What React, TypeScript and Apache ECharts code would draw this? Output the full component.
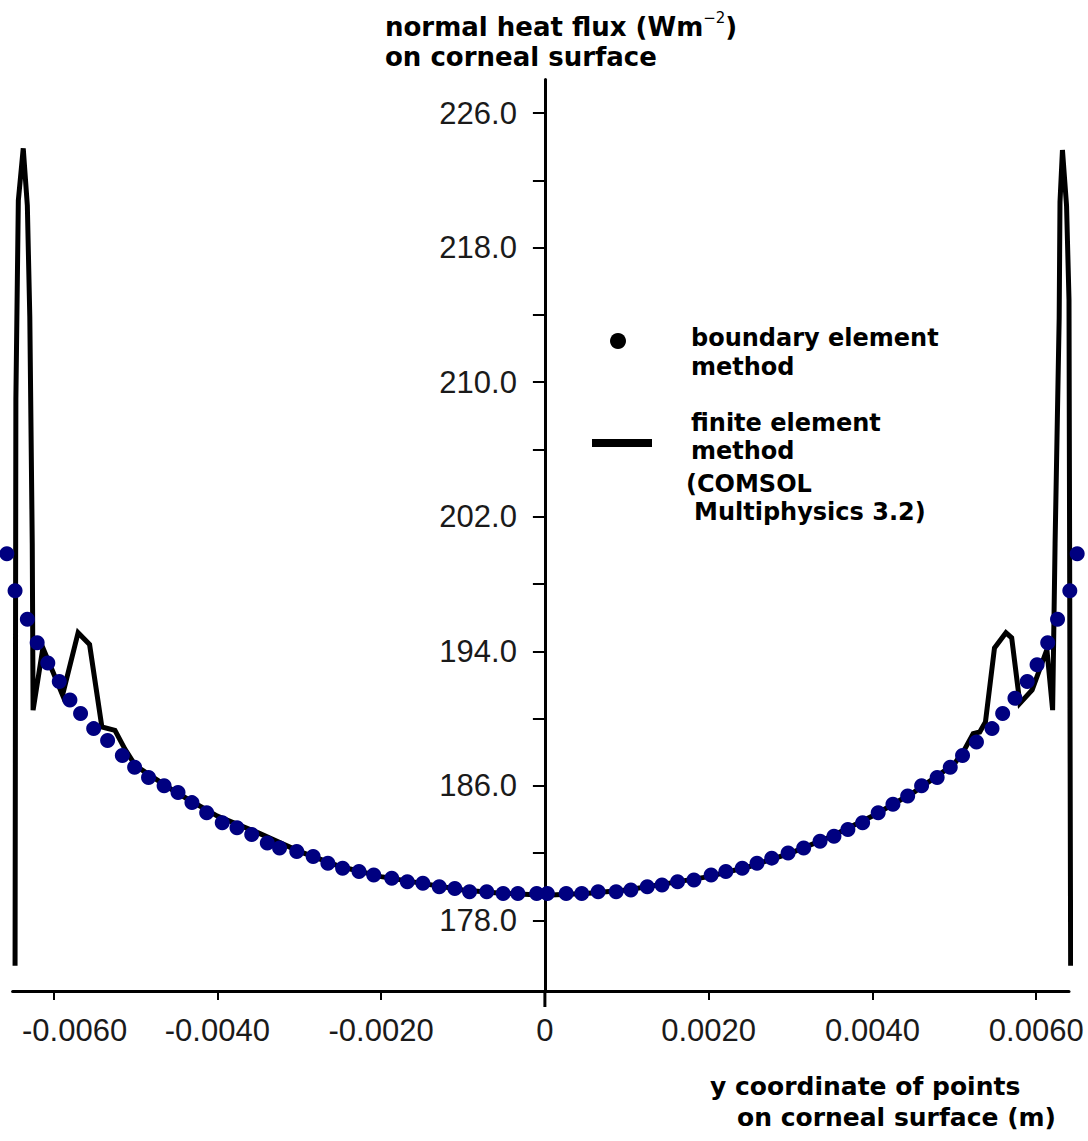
import React, { useEffect, useRef } from 'react';
import * as echarts from 'echarts';

// Boundary element method (dots)
const bemX = [
  -0.00657, -0.00647, -0.00632, -0.0062, -0.00607, -0.00593, -0.0058, -0.00567, -0.00551, -0.00534,
  -0.00516, -0.00501, -0.00484, -0.00465, -0.00448, -0.00431, -0.00413, -0.00394, -0.00376, -0.00358,
  -0.00339, -0.00324, -0.00303, -0.00283, -0.00265, -0.00247, -0.00227, -0.00209, -0.00187, -0.00168,
  -0.00149, -0.00129, -0.0011, -0.00092, -0.00071, -0.00051, -0.00033, -0.0001,
  0.00003, 0.00026, 0.00045, 0.00065, 0.00087, 0.00105, 0.00125, 0.00143, 0.00162, 0.00182,
  0.00203, 0.00221, 0.00241, 0.00259, 0.00277, 0.00297, 0.00316, 0.00336, 0.00353, 0.0037,
  0.00388, 0.00407, 0.00425, 0.00443, 0.0046, 0.00479, 0.00495, 0.0051, 0.00527, 0.00546,
  0.00559, 0.00574, 0.00589, 0.00601, 0.00614, 0.00626, 0.00641, 0.0065,
];
const bemY = [
  199.8, 197.6, 195.9, 194.5, 193.3, 192.2, 191.1, 190.3, 189.4, 188.7,
  187.8, 187.1, 186.5, 186.0, 185.6, 185.0, 184.4, 183.8, 183.5, 183.1,
  182.6, 182.3, 182.1, 181.8, 181.4, 181.1, 180.9, 180.7, 180.5, 180.3,
  180.2, 180.0, 179.9, 179.7, 179.7, 179.6, 179.6, 179.6,
  179.6, 179.6, 179.6, 179.7, 179.7, 179.8, 180.0, 180.1, 180.3, 180.4,
  180.7, 180.9, 181.1, 181.4, 181.7, 182.0, 182.3, 182.7, 183.0, 183.4,
  183.8, 184.4, 184.9, 185.4, 186.0, 186.5, 187.1, 187.8, 188.6, 189.4,
  190.3, 191.2, 192.2, 193.2, 194.5, 195.9, 197.6, 199.8,
];

// Finite element method (COMSOL) line
const femX = [
  -0.00647, -0.00646, -0.00643, -0.00637, -0.00632, -0.00629, -0.00626, -0.00625, -0.00613, -0.00589,
  -0.0057, -0.00556, -0.00541, -0.00525, -0.00513, -0.005, -0.0045, -0.004, -0.0035, -0.003,
  -0.0025, -0.002, -0.0015, -0.001, -0.0005, 0, 0.0005, 0.001, 0.0015, 0.002,
  0.0025, 0.003, 0.0035, 0.004, 0.0045, 0.005, 0.00513, 0.00523, 0.00531, 0.00538,
  0.00549, 0.00563, 0.0057, 0.0058, 0.00595, 0.00613, 0.0062, 0.00623, 0.00628, 0.00629,
  0.00632, 0.00637, 0.0064, 0.00642,
];
const femY = [
  175.3, 209.0, 220.8, 223.9, 220.5, 213.9, 200.4, 190.5, 194.2, 191.4,
  195.1, 194.4, 189.5, 189.3, 188.2, 187.2, 185.6, 184.2, 183.2, 182.1,
  181.2, 180.6, 180.2, 179.8, 179.6, 179.5, 179.6, 179.8, 180.2, 180.6,
  181.2, 182.0, 183.0, 184.2, 185.6, 187.3, 188.2, 189.1, 189.2, 189.8,
  194.2, 195.1, 194.8, 190.9, 191.7, 194.1, 190.5, 200.4, 213.8, 220.7,
  223.8, 220.5, 214.9, 175.3,
];

const yLabelValues = [178, 186, 194, 202, 210, 218, 226];
const yTickValues = [178, 182, 186, 190, 194, 198, 202, 206, 210, 214, 218, 222, 226];
const xLabelValues = [-0.006, -0.004, -0.002, 0, 0.002, 0.004, 0.006];

const X_MIN = -0.0065;
const X_MAX = 0.0064;
const Y_MIN = 173.8;
const Y_MAX = 228;

const BOLD = '"DejaVu Sans", sans-serif';
const TICKFONT = '"Liberation Sans", Arial, sans-serif';
const TICKCOLOR = '#1a1a1a';

export default function App() {
  const ref = useRef<HTMLDivElement>(null);

  useEffect(() => {
    if (!ref.current) return;
    const chart = echarts.init(ref.current, null, { renderer: 'svg' });

    const boldText = (id: string, x: number, y: number, text: string, size: number) => ({
      type: 'text',
      id,
      x,
      y,
      style: {
        text,
        fill: '#000',
        font: `bold ${size}px ${BOLD}`,
        align: 'left',
        verticalAlign: 'middle',
      },
    });

    const graphics: any[] = [
      {
        type: 'text',
        id: 'ytitle1',
        x: 385,
        y: 25,
        style: {
          text: '{a|normal heat flux (Wm}{s|−2}{a|)}',
          align: 'left',
          verticalAlign: 'middle',
          rich: {
            a: { fontSize: 26, fontWeight: 'bold', fontFamily: BOLD, fill: '#000', lineHeight: 30, verticalAlign: 'bottom' },
            s: { fontSize: 15, fontWeight: 'normal', fontFamily: BOLD, fill: '#000', lineHeight: 30, verticalAlign: 'top' },
          },
        },
      },
      boldText('ytitle2', 385, 57, 'on corneal surface', 26),
      boldText('xtitle1', 710, 1086, 'y coordinate of points', 25),
      boldText('xtitle2', 737, 1117, 'on corneal surface (m)', 25),
      { type: 'circle', id: 'legdot', shape: { cx: 618, cy: 341, r: 8 }, style: { fill: '#000' } },
      { type: 'rect', id: 'legline', shape: { x: 592, y: 439, width: 60, height: 8 }, style: { fill: '#000' } },
      boldText('l1a', 691, 338, 'boundary element', 24),
      boldText('l1b', 691, 367, 'method', 24),
      boldText('l2a', 691, 423, 'finite element', 24),
      boldText('l2b', 691, 451, 'method', 24),
      boldText('l2c', 686, 484, '(COMSOL', 24),
      boldText('l2d', 694, 512, 'Multiphysics 3.2)', 24),
    ];

    const option: any = {
      animation: false,
      backgroundColor: '#fff',
      grid: { left: 12.6, right: 19, top: 79.4, bottom: 150, containLabel: false, outerBoundsMode: 'none' },
      xAxis: {
        type: 'value',
        min: X_MIN,
        max: X_MAX,
        axisLine: { show: true, onZero: false, lineStyle: { color: '#000', width: 3 } },
        axisTick: { show: true, length: 9, customValues: xLabelValues, lineStyle: { color: '#000', width: 2 } },
        axisLabel: {
          customValues: xLabelValues,
          formatter: (v: number) => {
            if (Math.abs(v) < 1e-12) return '0';
            if (Math.abs(v - xLabelValues[0]) < 1e-12) return `{sh|${v.toFixed(4)}}`;
            return v.toFixed(4);
          },
          rich: {
            sh: { padding: [0, 0, 0, 42], fontFamily: TICKFONT, fontSize: 31, color: TICKCOLOR },
          },
          fontFamily: TICKFONT,
          fontSize: 31,
          color: TICKCOLOR,
          margin: 24,
        },
        splitLine: { show: false },
      },
      yAxis: {
        type: 'value',
        min: Y_MIN,
        max: Y_MAX,
        axisLine: { show: true, onZero: true, lineStyle: { color: '#000', width: 3 } },
        axisTick: { show: true, length: 12, customValues: yTickValues, lineStyle: { color: '#000', width: 2 } },
        axisLabel: { show: false },
        splitLine: { show: false },
      },
      series: [
        {
          type: 'line',
          name: 'finite element method',
          data: femX.map((x, i) => [x, femY[i]]),
          showSymbol: false,
          symbol: 'none',
          lineStyle: { color: '#000', width: 5, join: 'miter' },
          z: 2,
        },
        {
          type: 'scatter',
          name: 'boundary element method',
          data: bemX.map((x, i) => [x, bemY[i]]),
          symbol: 'circle',
          symbolSize: 15,
          itemStyle: { color: '#000080', opacity: 1 },
          clip: false,
          z: 3,
        },
      ],
      graphic: graphics,
    };

    chart.setOption(option);

    const extra: any[] = [];
    const p0 = chart.convertToPixel({ gridIndex: 0 }, [0, Y_MIN]) as number[];
    if (p0) {
      extra.push({
        type: 'line',
        id: 'yext',
        shape: { x1: p0[0], y1: p0[1], x2: p0[0], y2: p0[1] + 16 },
        style: { stroke: '#000', lineWidth: 3 },
      });
      yLabelValues.forEach((v, i) => {
        const p = chart.convertToPixel({ gridIndex: 0 }, [0, v]) as number[];
        extra.push({
          type: 'text',
          id: 'ylab' + i,
          x: p[0] - 28,
          y: p[1],
          style: {
            text: v.toFixed(1),
            fill: TICKCOLOR,
            font: `31px ${TICKFONT}`,
            align: 'right',
            verticalAlign: 'middle',
          },
        });
      });
    }
    chart.setOption({ graphic: [...graphics, ...extra] });

    return () => chart.dispose();
  }, []);

  return <div ref={ref} style={{ position: 'absolute', left: 0, top: 0, width: 1088, height: 1141 }} />;
}
